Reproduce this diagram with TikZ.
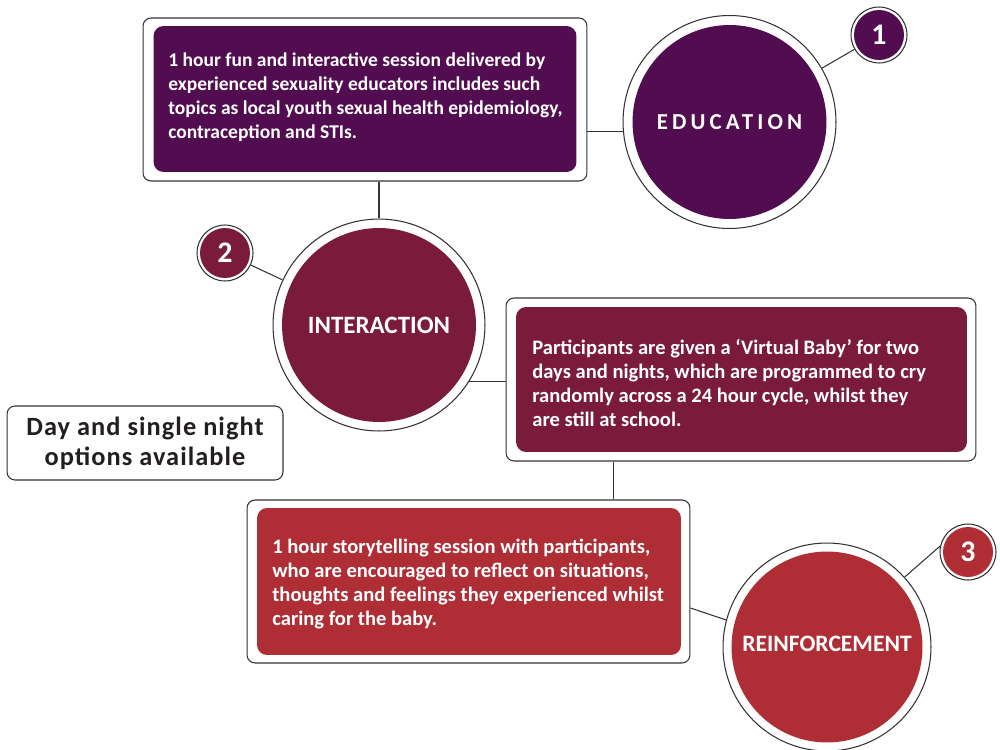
\documentclass[tikz,border=0pt]{standalone}
\usepackage{fontspec}
\setmainfont{Carlito}
\newfontfamily\spacedfont[LetterSpace=18]{Carlito}
\newfontfamily\dayfont[LetterSpace=4]{Carlito}
\usetikzlibrary{positioning}
\definecolor{edupurple}{HTML}{520C50}
\definecolor{intermaroon}{HTML}{7A1B3B}
\definecolor{reinred}{HTML}{AF2E35}
\definecolor{framegray}{HTML}{333333}
\definecolor{daytext}{HTML}{231F20}

\begin{document}
\begin{tikzpicture}[x=0.02cm,y=-0.02cm,
    frame/.style={draw=framegray,line width=0.6pt,fill=white,rounded corners=0.16cm,inner sep=0pt},
    panel/.style={fill=#1,rounded corners=0.2cm,inner sep=0pt},
    blurb/.style={text=white,font=\bfseries\fontsize{11.7}{13.6}\selectfont,align=left,anchor=west,inner sep=0pt},
    ring/.style={circle,draw=framegray,line width=0.6pt,fill=white,minimum size=#1,inner sep=0pt},
    disc/.style={circle,fill=#1,text=white,inner sep=0pt},
    link/.style={draw=framegray,line width=0.6pt}]
  \useasboundingbox (0,0) rectangle (1000,750);

  %education box
  \node[frame,minimum width=8.88cm,minimum height=3.26cm] (edubox) at (365,99.5) {};
  \node[panel=edupurple,minimum width=8.46cm,minimum height=2.92cm] (edupanel) at (365,99) {};
  \node[blurb,font=\bfseries\fontsize{11.1}{13.6}\selectfont] (edutext) at (168,97) {1 hour fun and interactive session delivered by\\
    experienced sexuality educators includes such\\
    topics as local youth sexual health epidemiology,\\
    contraception and STIs.};

  %virtual baby box
  \node[frame,minimum width=9.4cm,minimum height=3.26cm] (babybox) at (741,379.5) {};
  \node[panel=intermaroon,minimum width=9.02cm,minimum height=2.9cm] (babypanel) at (741.5,379.5) {};
  \node[blurb] (babytext) at (532,383) {Participants are given a `Virtual Baby' for two\\
    days and nights, which are programmed to cry\\
    randomly across a 24 hour cycle, whilst they\\
    are still at school.};

  %storytelling box
  \node[frame,minimum width=8.86cm,minimum height=3.26cm] (storybox) at (468.5,581.5) {};
  \node[panel=reinred,minimum width=8.48cm,minimum height=2.94cm] (storypanel) at (469,581.5) {};
  \node[blurb] (storytext) at (272,584) {1 hour storytelling session with participants,\\
    who are encouraged to reflect on situations,\\
    thoughts and feelings they experienced whilst\\
    caring for the baby.};

  %options note
  \node[frame,minimum width=5.52cm,minimum height=1.48cm,text=daytext,
        font=\dayfont\bfseries\fontsize{15}{17}\selectfont,align=center] (daybox) at (145,443)
        {Day and single night\\options available};

  %big circles
  \node[ring=4.26cm] (educ) at (729.5,122) {};
  \node[disc=edupurple,minimum size=3.88cm,font=\spacedfont\bfseries\fontsize{13}{15}\selectfont] (educdisc) at (educ) {EDUCATION};
  \node[ring=4.24cm] (inter) at (379,325) {};
  \node[disc=intermaroon,minimum size=3.88cm,font=\bfseries\fontsize{14.2}{16}\selectfont] (interdisc) at (inter) {INTERACTION};
  \node[ring=4.16cm] (rein) at (827,647) {};
  \node[disc=reinred,minimum size=3.82cm,font=\bfseries\fontsize{13.4}{15}\selectfont] (reindisc) at (rein) {\raisebox{0.12cm}{REINFORCEMENT}};

  %number badges
  \node[ring=1.12cm] (badge1) at (879,35) {};
  \node[disc=edupurple,minimum size=1.0cm,font=\bfseries\fontsize{17}{20}\selectfont] (badge1disc) at (badge1) {1};
  \node[ring=1.12cm] (badge2) at (225,253) {};
  \node[disc=intermaroon,minimum size=1.0cm,font=\bfseries\fontsize{17}{20}\selectfont] (badge2disc) at (badge2) {2};
  \node[ring=1.12cm] (badge3) at (968,552) {};
  \node[disc=reinred,minimum size=1.0cm,font=\bfseries\fontsize{17}{20}\selectfont] (badge3disc) at (badge3) {3};

  %connectors
  \draw[link] (edubox.east |- educ.185) -- (educ.185);
  \draw[link] (inter.north |- edubox.south) -- (inter.north);
  \draw[link] (babybox.west |- inter.-32.5) -- (inter.-32.5);
  \path (babybox.south west) ++(108,0) coordinate (babydrop);
  \draw[link] (babydrop) -- (babydrop |- storybox.north);
  \draw[link] ([yshift=-0.53cm]storybox.east) -- (rein.165);
  \draw[link] (badge1) -- (educ);
  \draw[link] (badge2) -- (inter);
  \draw[link] (badge3.168) -- (rein.42);
\end{tikzpicture}
\end{document}
